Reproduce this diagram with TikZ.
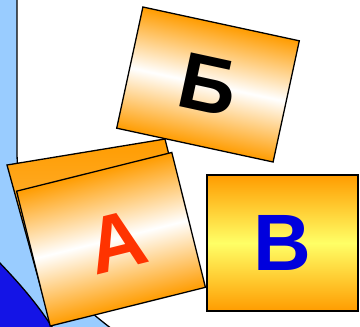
\documentclass[tikz,border=0pt]{standalone}
\usepackage{fontspec}
\setmainfont{Liberation Sans}
\definecolor{lblue}{HTML}{99CCFF}
\definecolor{dblue}{HTML}{1414E6}
\definecolor{cardorange}{HTML}{FF9C00}
\definecolor{cardyellow}{HTML}{FFFF66}
\definecolor{letterred}{HTML}{FF3300}
\definecolor{letterblue}{HTML}{0000DD}
\begin{document}
\begin{tikzpicture}[x=1pt,y=-1pt,
  cardbox/.style={draw=black, line width=1.3pt, inner sep=0pt,
    top color=cardorange, bottom color=cardorange, middle color=white,
    font=\fontsize{80}{80}\selectfont\bfseries},
  yellowbox/.style={draw=black, line width=2pt, inner sep=0pt,
    top color=cardorange, bottom color=cardorange, middle color=cardyellow,
    font=\fontsize{80}{80}\selectfont\bfseries}]
\useasboundingbox (0,0) rectangle (360,327);
% background
\fill[lblue] (0,0) rectangle (360,327);
\fill[white] (17,-2) -- (17,150) .. controls (17,240) and (60,290) .. (112,329) -- (362,329) -- (362,-2) -- cycle;
\draw[line width=1.3pt] (17,-2) -- (17,150) .. controls (17,240) and (60,290) .. (112,329);
\fill[dblue] (-2,261) .. controls (18,282) and (37,303) .. (54,330) -- (-2,330) -- cycle;
\draw[line width=1.3pt] (-2,261) .. controls (18,282) and (37,303) .. (54,330);
% card Be
\begin{scope}[transform canvas={shift={(208,84.5)}, rotate=-12.2}]
\node[cardbox, minimum width=160pt, minimum height=124pt] (cardbe) at (0,0) {Б};
\end{scope}
% back card behind A
\shade[draw=black, line width=1.3pt, top color=cardorange, bottom color=cardorange!60!white]
  (7,165) -- (165,139) -- (195,259) -- (45,303) -- cycle;
% card A
\begin{scope}[transform canvas={shift={(111,239.25)}, rotate=14}]
\node[cardbox, minimum width=160pt, minimum height=139pt] (carda) at (0,0) {};
\node[text=letterred, font=\fontsize{80}{80}\selectfont\bfseries, inner sep=0pt] (lettera) at (5,4) {A};
\end{scope}
% card V
\node[yellowbox, minimum width=151pt, minimum height=136pt, text=letterblue] (cardv) at (282.5,243) {В};
\end{tikzpicture}
\end{document}
